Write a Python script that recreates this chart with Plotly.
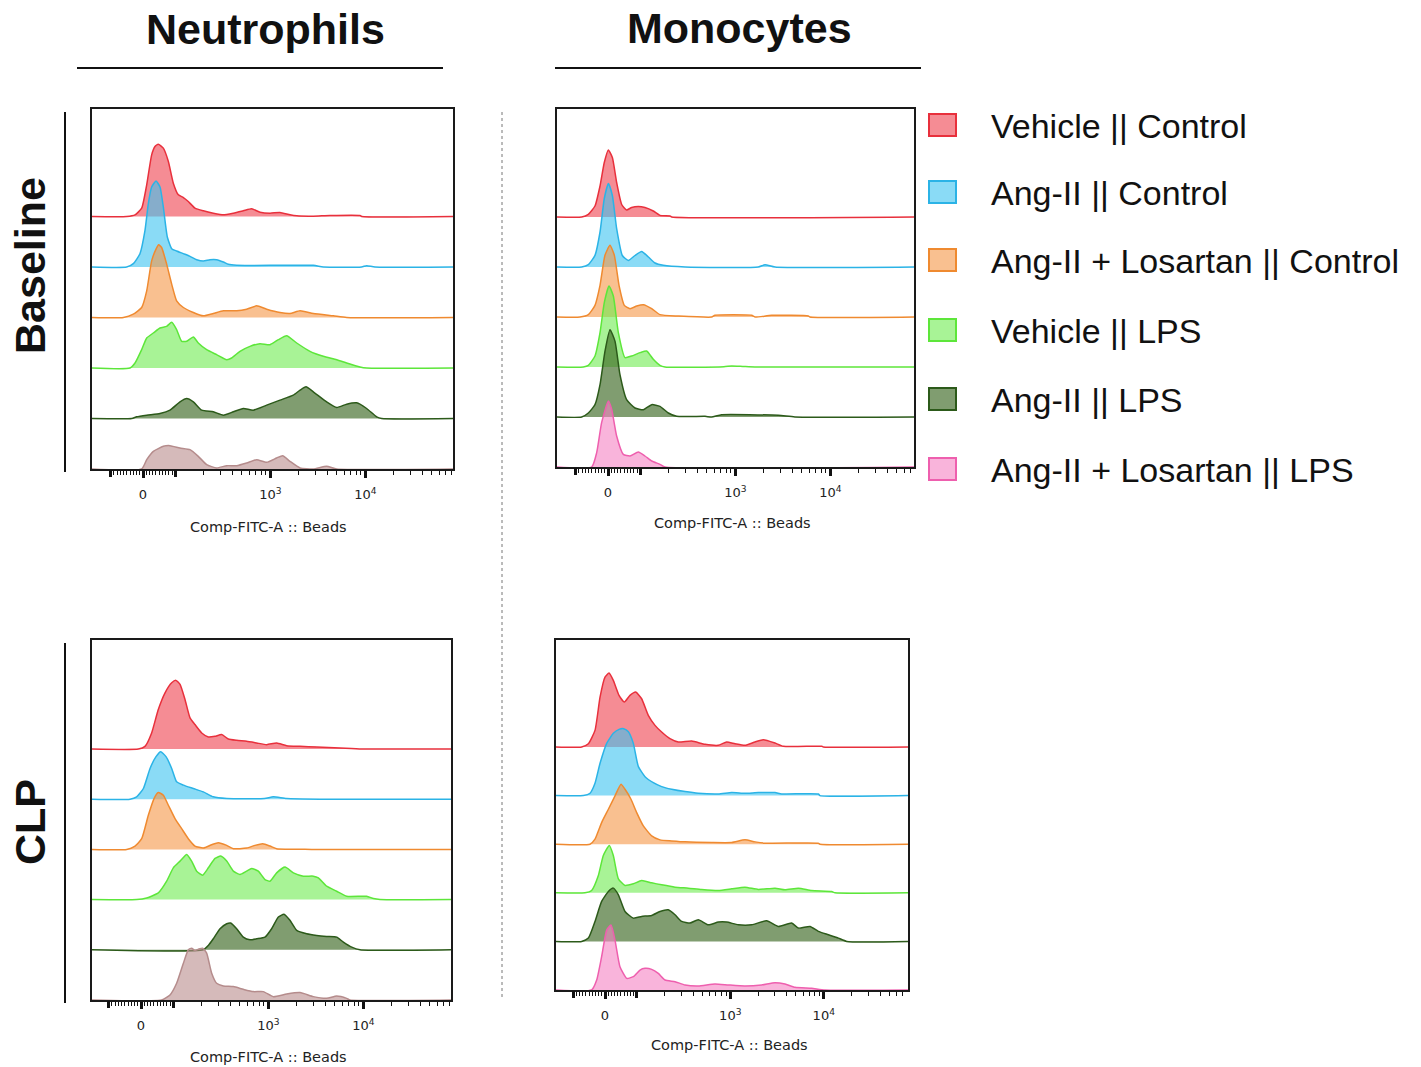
import math
import plotly.graph_objects as go

W, H = 1421, 1067

SERIES_NAMES = ["Vehicle || Control", "Ang-II || Control", "Ang-II + Losartan || Control",
                "Vehicle || LPS", "Ang-II || LPS", "Ang-II + Losartan || LPS"]
LINE_COLORS = ["#e8303c", "#2bb3e6", "#ef8a30", "#5de63a", "#2c5a1a", "#ee5fae"]
FILL_COLORS = ["rgba(238,64,76,0.6)", "rgba(60,195,240,0.6)", "rgba(245,150,70,0.6)",
               "rgba(110,235,80,0.6)", "rgba(60,105,35,0.65)", "rgba(245,130,195,0.6)"]
NEU_LAST_LINE = "#b58c8c"
NEU_LAST_FILL = "rgba(185,140,140,0.6)"

# biexponential display axis: linear within +-100, logarithmic (1 unit per decade) beyond.
# x values of the histograms below are positions on this display scale.
LIN_LIMIT = 100.0
LIN_WIDTH = 0.34
LABEL_TICKS = [0, 1000, 10000]
LABEL_TEXT = ["0", "10<sup>3</sup>", "10<sup>4</sup>"]
UNLABELED_MAJOR = [-100, 100]
MINOR_TICKS = [-90, -80, -70, -60, -50, -40, -30, -20, -10,
               10, 20, 30, 40, 50, 60, 70, 80, 90,
               200, 300, 400, 500, 600, 700, 800, 900,
               2000, 3000, 4000, 5000, 6000, 7000, 8000, 9000,
               20000, 30000, 40000, 50000, 60000, 70000, 80000]

# ---- histogram outlines: [display position, normalized count] ----
# Neutrophils / Baseline
nb_veh_ctl = [(-0.172,0),(-0.084,0.033),(-0.014,0.165),(0.039,0.627),(0.091,1.221),(0.126,1.386),(0.161,1.432),(0.214,1.353),(0.267,1.089),(0.319,0.660),(0.372,0.429),(0.425,0.376),(0.477,0.297),(0.547,0.165),(0.635,0.112),(0.740,0.066),(0.846,0.033),(0.951,0.066),(1.056,0.112),(1.144,0.152),(1.232,0.086),(1.337,0.066),(1.442,0.079),(1.547,0.033),(1.618,0.013),(1.793,0.007),(1.968,0.020),(2.284,0.020),(2.302,0)]
nb_ang_ctl = [(-0.172,0),(-0.102,0.066),(-0.032,0.264),(0.021,0.726),(0.056,1.254),(0.091,1.584),(0.137,1.703),(0.179,1.584),(0.214,1.188),(0.256,0.594),(0.302,0.363),(0.354,0.317),(0.425,0.264),(0.495,0.211),(0.565,0.145),(0.635,0.119),(0.705,0.145),(0.775,0.145),(0.846,0.099),(0.898,0.053),(0.986,0.033),(1.793,0.033),(1.898,0),(2.30,0),(2.354,0.026),(2.442,0)]
nb_los_ctl = [(-0.207,0),(-0.102,0.066),(-0.014,0.198),(0.039,0.528),(0.091,1.122),(0.137,1.353),(0.165,1.439),(0.196,1.386),(0.249,1.056),(0.302,0.660),(0.354,0.330),(0.425,0.198),(0.530,0.099),(0.635,0.033),(0.740,0.079),(0.846,0.132),(0.986,0.132),(1.091,0.165),(1.196,0.231),(1.302,0.165),(1.442,0.099),(1.547,0.079),(1.653,0.132),(1.793,0.079),(2.004,0.033),(2.144,0)]
nb_veh_lps = [(-0.137,0),(-0.084,0.099),(-0.014,0.363),(0.039,0.594),(0.109,0.693),(0.179,0.792),(0.249,0.825),(0.302,0.904),(0.354,0.759),(0.407,0.528),(0.460,0.528),(0.530,0.614),(0.582,0.495),(0.670,0.363),(0.775,0.264),(0.881,0.165),(0.933,0.198),(1.021,0.330),(1.126,0.429),(1.232,0.482),(1.337,0.462),(1.425,0.561),(1.512,0.640),(1.618,0.495),(1.758,0.330),(1.898,0.231),(2.039,0.165),(2.144,0.099),(2.284,0.020),(2.354,0)]
nb_ang_lps = [(-0.119,0),(-0.067,0.033),(0.039,0.066),(0.179,0.099),(0.284,0.165),(0.389,0.330),(0.460,0.396),(0.530,0.330),(0.618,0.165),(0.740,0.132),(0.846,0.066),(0.951,0.132),(1.056,0.198),(1.161,0.165),(1.302,0.264),(1.442,0.363),(1.582,0.462),(1.653,0.561),(1.716,0.627),(1.793,0.528),(1.933,0.330),(2.039,0.218),(2.144,0.284),(2.249,0.310),(2.354,0.198),(2.460,0.033),(2.512,0)]
nb_los_lps = [(-0.014,0),(0.039,0.185),(0.109,0.350),(0.214,0.449),(0.284,0.462),(0.389,0.416),(0.495,0.383),(0.582,0.251),(0.670,0.086),(0.775,0.020),(0.881,0.066),(0.986,0.066),(1.091,0.119),(1.196,0.185),(1.302,0.132),(1.407,0.218),(1.470,0.264),(1.547,0.152),(1.653,0.020),(1.793,0),(1.933,0.053),(2.039,0)]

# Monocytes / Baseline
mb_veh_ctl = [(-0.277,0),(-0.207,0.053),(-0.137,0.22),(-0.084,0.62),(-0.039,1.09),(0.004,1.34),(0.046,1.19),(0.091,0.69),(0.144,0.25),(0.196,0.14),(0.249,0.19),(0.319,0.21),(0.389,0.19),(0.477,0.12),(0.547,0.033),(0.653,0.02),(0.670,0)]
mb_ang_ctl = [(-0.277,0),(-0.207,0.047),(-0.137,0.233),(-0.084,0.70),(-0.039,1.37),(0.004,1.67),(0.046,1.43),(0.091,0.77),(0.151,0.23),(0.214,0.13),(0.284,0.23),(0.354,0.31),(0.425,0.20),(0.495,0.08),(0.582,0.033),(0.811,0),(1.582,0),(1.653,0.047),(1.758,0)]
mb_los_ctl = [(-0.295,0),(-0.207,0.047),(-0.137,0.233),(-0.084,0.633),(-0.032,1.233),(0.021,1.433),(0.067,1.233),(0.116,0.633),(0.172,0.233),(0.232,0.167),(0.302,0.22),(0.372,0.247),(0.460,0.167),(0.547,0.047),(0.740,0.02),(1.091,0),(1.126,0.033),(1.512,0.033),(1.547,0),(1.723,0.033),(2.109,0.02),(2.126,0)]
mb_veh_lps = [(-0.26,0),(-0.207,0.033),(-0.137,0.22),(-0.084,0.687),(-0.039,1.287),(0.011,1.62),(0.056,1.42),(0.109,0.687),(0.179,0.187),(0.249,0.22),(0.337,0.287),(0.407,0.32),(0.477,0.153),(0.547,0.033),(0.60,0),(1.22,0.005),(1.302,0.02),(1.42,0.01),(1.547,0)]
mb_ang_lps = [(-0.277,0),(-0.207,0.08),(-0.137,0.247),(-0.084,0.647),(-0.032,1.313),(0.021,1.747),(0.074,1.513),(0.126,0.847),(0.196,0.347),(0.284,0.18),(0.372,0.147),(0.460,0.247),(0.547,0.213),(0.635,0.08),(0.723,0.013),(1.021,0.013),(1.091,0),(1.196,0.047),(1.793,0.033),(1.968,0)]
mb_los_lps = [(-0.172,0),(-0.119,0.287),(-0.067,0.887),(0.004,1.32),(0.039,1.153),(0.091,0.62),(0.161,0.253),(0.232,0.22),(0.319,0.30),(0.389,0.22),(0.460,0.12),(0.547,0.053),(0.60,0)]

# Neutrophils / CLP
nc_veh_ctl = [(-0.028,0),(0.042,0.053),(0.112,0.32),(0.182,0.787),(0.253,1.12),(0.323,1.32),(0.368,1.367),(0.411,1.287),(0.463,0.987),(0.516,0.62),(0.568,0.487),(0.639,0.32),(0.709,0.24),(0.779,0.253),(0.849,0.287),(0.919,0.20),(1.007,0.173),(1.112,0.153),(1.218,0.12),(1.323,0.087),(1.428,0.12),(1.533,0.067),(1.674,0.053),(1.849,0.04),(2.095,0.02),(2.323,0)]
nc_ang_ctl = [(-0.116,0),(-0.046,0.047),(0.025,0.213),(0.095,0.613),(0.158,0.847),(0.207,0.947),(0.263,0.847),(0.323,0.613),(0.375,0.347),(0.446,0.28),(0.551,0.213),(0.656,0.147),(0.761,0.047),(0.902,0.013),(1.30,0.013),(1.393,0.047),(1.533,0.013),(1.884,0)]
nc_los_ctl = [(-0.151,0),(-0.063,0.067),(0.007,0.213),(0.077,0.68),(0.137,1.013),(0.182,1.133),(0.235,1.08),(0.288,0.88),(0.358,0.613),(0.428,0.413),(0.498,0.213),(0.568,0.067),(0.656,0.027),(0.744,0.093),(0.814,0.133),(0.902,0.08),(0.972,0.013),(1.112,0.027),(1.2,0.08),(1.281,0.113),(1.358,0.067),(1.428,0.013),(1.796,0)]
nc_veh_lps = [(-0.046,0),(0.06,0.033),(0.182,0.133),(0.27,0.367),(0.34,0.633),(0.411,0.767),(0.481,0.90),(0.533,0.767),(0.586,0.567),(0.649,0.487),(0.709,0.633),(0.779,0.82),(0.839,0.867),(0.902,0.767),(0.972,0.567),(1.042,0.50),(1.112,0.567),(1.165,0.62),(1.235,0.567),(1.305,0.40),(1.358,0.367),(1.428,0.533),(1.516,0.647),(1.604,0.533),(1.709,0.467),(1.814,0.467),(1.867,0.433),(1.954,0.267),(2.06,0.167),(2.165,0.067),(2.375,0.067),(2.446,0.02),(2.516,0)]
nc_ang_lps = [(0.656,0),(0.709,0.087),(0.761,0.22),(0.832,0.42),(0.902,0.52),(0.944,0.533),(1.007,0.42),(1.077,0.253),(1.147,0.20),(1.218,0.22),(1.305,0.253),(1.375,0.42),(1.446,0.653),(1.505,0.707),(1.568,0.587),(1.639,0.387),(1.744,0.32),(1.849,0.287),(1.954,0.267),(2.06,0.253),(2.13,0.153),(2.218,0.053),(2.305,0)]
nc_los_lps = [(0.218,0),(0.305,0.10),(0.375,0.333),(0.446,0.733),(0.498,1.0),(0.533,1.033),(0.568,0.987),(0.604,1.013),(0.649,1.033),(0.691,0.933),(0.744,0.533),(0.796,0.333),(0.867,0.28),(0.972,0.267),(1.077,0.213),(1.182,0.167),(1.288,0.167),(1.393,0.067),(1.533,0.12),(1.674,0.147),(1.814,0.067),(1.954,0.033),(2.06,0.08),(2.165,0.033),(2.2,0)]

# Monocytes / CLP
mc_veh_ctl = [(-0.25,0),(-0.178,0.068),(-0.107,0.342),(-0.053,1.027),(0,1.438),(0.043,1.521),(0.089,1.37),(0.15,1.062),(0.207,0.925),(0.267,1.062),(0.328,1.130),(0.392,0.993),(0.463,0.651),(0.535,0.445),(0.606,0.308),(0.695,0.171),(0.784,0.103),(0.927,0.123),(1.07,0.055),(1.212,0.034),(1.301,0.103),(1.39,0.068),(1.497,0.034),(1.604,0.103),(1.693,0.151),(1.818,0.082),(1.907,0.014),(2.32,0.014),(2.335,0)]
mc_ang_ctl = [(-0.232,0),(-0.16,0.048),(-0.107,0.253),(-0.053,0.664),(0.018,1.075),(0.089,1.281),(0.15,1.363),(0.20,1.377),(0.25,1.315),(0.303,1.075),(0.357,0.596),(0.428,0.390),(0.517,0.267),(0.606,0.185),(0.713,0.130),(0.856,0.082),(0.998,0.048),(1.212,0.034),(1.355,0.062),(1.497,0.048),(1.64,0.062),(1.818,0.062),(1.889,0.034),(2.282,0.034),(2.299,0)]
mc_los_ctl = [(-0.16,0),(-0.107,0.103),(-0.036,0.445),(0.036,0.719),(0.107,0.993),(0.171,1.233),(0.214,1.13),(0.278,0.925),(0.339,0.651),(0.41,0.377),(0.499,0.171),(0.588,0.089),(0.713,0.068),(0.856,0.048),(1.141,0.034),(1.355,0.034),(1.497,0.089),(1.604,0.048),(1.711,0.021),(2.28,0.021),(2.299,0)]
mc_veh_lps = [(-0.214,0),(-0.143,0.048),(-0.071,0.356),(-0.018,0.767),(0.046,0.973),(0.089,0.767),(0.143,0.288),(0.214,0.151),(0.303,0.185),(0.392,0.253),(0.499,0.205),(0.606,0.164),(0.749,0.116),(0.891,0.096),(1.034,0.068),(1.212,0.048),(1.355,0.082),(1.497,0.116),(1.64,0.068),(1.818,0.096),(1.925,0.062),(2.068,0.096),(2.21,0.048),(2.424,0.027),(2.46,0)]
mc_ang_lps = [(-0.25,0),(-0.178,0.068),(-0.107,0.411),(-0.036,0.822),(0.036,1.027),(0.089,1.096),(0.143,0.959),(0.214,0.616),(0.303,0.479),(0.392,0.514),(0.499,0.534),(0.588,0.616),(0.677,0.651),(0.749,0.548),(0.82,0.411),(0.909,0.377),(0.998,0.445),(1.105,0.342),(1.212,0.397),(1.301,0.397),(1.426,0.342),(1.569,0.342),(1.729,0.425),(1.854,0.308),(1.996,0.377),(2.068,0.274),(2.193,0.308),(2.282,0.205),(2.389,0.137),(2.496,0.068),(2.585,0)]
mc_los_lps = [(-0.143,0),(-0.089,0.205),(-0.036,0.685),(0.018,1.233),(0.064,1.336),(0.107,1.027),(0.16,0.479),(0.232,0.24),(0.303,0.274),(0.374,0.411),(0.428,0.445),(0.499,0.425),(0.57,0.342),(0.642,0.205),(0.749,0.171),(0.856,0.103),(0.998,0.082),(1.176,0.123),(1.319,0.103),(1.497,0.082),(1.676,0.103),(1.818,0.151),(1.925,0.123),(2.032,0.055),(2.21,0.034),(2.353,0)]

# ---- layout geometry (pixels) ----
PANELS = [
    dict(box=(92, 109, 453, 469), zero=143, dec=95.0, step=50.5, neu=True,
         data=[nb_veh_ctl, nb_ang_ctl, nb_los_ctl, nb_veh_lps, nb_ang_lps, nb_los_lps], title_at=(268, 527)),
    dict(box=(557, 109, 914, 467), zero=608, dec=95.0, step=50.0, neu=False,
         data=[mb_veh_ctl, mb_ang_ctl, mb_los_ctl, mb_veh_lps, mb_ang_lps, mb_los_lps], title_at=(732, 523)),
    dict(box=(92, 640, 451, 1000), zero=141, dec=95.0, step=50.2, neu=True,
         data=[nc_veh_ctl, nc_ang_ctl, nc_los_ctl, nc_veh_lps, nc_ang_lps, nc_los_lps], title_at=(268, 1057)),
    dict(box=(556, 640, 908, 990), zero=605, dec=93.5, step=48.6, neu=False,
         data=[mc_veh_ctl, mc_ang_ctl, mc_los_ctl, mc_veh_lps, mc_ang_lps, mc_los_lps], title_at=(729, 1045)),
]


def biex(v):
    if abs(v) <= LIN_LIMIT:
        return v / LIN_LIMIT * LIN_WIDTH
    s = 1 if v > 0 else -1
    return s * (LIN_WIDTH + math.log10(abs(v) / LIN_LIMIT))


def px(x):
    return x / W


def py(y):
    return 1 - y / H


fig = go.Figure()
layout = dict(width=W, height=H, margin=dict(l=0, r=0, t=0, b=0),
              paper_bgcolor="white", plot_bgcolor="white", showlegend=False)
annotations = []
shapes = []
TICK_COLOR = "#111"

for k, p in enumerate(PANELS, start=1):
    x0, y0, x1, y1 = p["box"]
    xr = [(x0 - p["zero"]) / p["dec"], (x1 - p["zero"]) / p["dec"]]
    yr = [0, (y1 - y0) / p["step"]]
    xa = "x" if k == 1 else f"x{k}"
    ya = "y" if k == 1 else f"y{k}"
    n = len(p["data"])
    for i, series in enumerate(p["data"]):
        off = n - 1 - i
        xs = [xr[0]] + [a for a, _ in series] + [xr[1]]
        ys = [off] + [off + b for _, b in series] + [off]
        lc, fc = LINE_COLORS[i], FILL_COLORS[i]
        if p["neu"] and i == n - 1:
            lc, fc = NEU_LAST_LINE, NEU_LAST_FILL
        fig.add_trace(go.Scatter(x=xs, y=ys, mode="lines", name=SERIES_NAMES[i],
                                 line=dict(color=lc, width=1.5, shape="spline", smoothing=0.5),
                                 fill="toself", fillcolor=fc, hoverinfo="skip",
                                 xaxis=xa, yaxis=ya))
    # empty trace so the companion tick axis gets drawn
    fig.add_trace(go.Scatter(x=[], y=[], mode="lines", hoverinfo="skip",
                             xaxis=f"x{k + 4}", yaxis=ya))
    axname = "xaxis" if k == 1 else f"xaxis{k}"
    ayname = "yaxis" if k == 1 else f"yaxis{k}"
    layout[axname] = dict(
        domain=[px(x0), px(x1)], range=xr, anchor=ya, showgrid=False, zeroline=False,
        showline=True, linecolor="#1a1a1a", linewidth=1.5, mirror=True,
        tickmode="array", tickvals=[biex(v) for v in LABEL_TICKS], ticktext=LABEL_TEXT,
        ticks="outside", ticklen=7, tickwidth=2.5, tickcolor=TICK_COLOR,
        ticklabelstandoff=6,
        tickfont=dict(family="DejaVu Sans", size=13, color="#222"),
        minor=dict(tickmode="array", tickvals=[biex(v) for v in MINOR_TICKS],
                   ticks="outside", ticklen=4, tickwidth=1.4, tickcolor=TICK_COLOR, showgrid=False),
    )
    # companion axis carrying the unlabeled major ticks (+-100)
    layout[f"xaxis{k + 4}"] = dict(
        domain=[px(x0), px(x1)], overlaying=xa, anchor=ya, range=xr,
        showgrid=False, zeroline=False, showline=False, showticklabels=False,
        tickmode="array", tickvals=[biex(v) for v in UNLABELED_MAJOR],
        ticks="outside", ticklen=7, tickwidth=2.5, tickcolor=TICK_COLOR,
    )
    layout[ayname] = dict(
        domain=[py(y1), py(y0)], range=yr, anchor=xa, showgrid=False, zeroline=False,
        showline=True, linecolor="#1a1a1a", linewidth=1.5, mirror=True,
        showticklabels=False, ticks="",
    )
    tx, ty = p["title_at"]
    annotations.append(dict(x=px(tx), y=py(ty), xref="paper", yref="paper",
                            text="Comp-FITC-A :: Beads", showarrow=False,
                            xanchor="center", yanchor="middle",
                            font=dict(family="DejaVu Sans", size=14.5, color="#222")))

BOLD = dict(family="Liberation Sans, Arial, sans-serif", size=43, color="#111")
for text, x, y, ang in [("<b>Neutrophils</b>", 265, 29, 0), ("<b>Monocytes</b>", 739, 28, 0),
                        ("<b>Baseline</b>", 30, 266, -90), ("<b>CLP</b>", 30, 822, -90)]:
    annotations.append(dict(x=px(x), y=py(y), xref="paper", yref="paper", text=text,
                            showarrow=False, xanchor="center", yanchor="middle",
                            textangle=ang, font=BOLD))

line_style = dict(color="#111", width=2)
for (xa0, ya0, xa1, ya1) in [(77, 68, 443, 68), (555, 68, 921, 68), (65, 112, 65, 472), (65, 643, 65, 1003)]:
    shapes.append(dict(type="line", xref="paper", yref="paper", x0=px(xa0), y0=py(ya0),
                       x1=px(xa1), y1=py(ya1), line=line_style))
shapes.append(dict(type="line", xref="paper", yref="paper", x0=px(502), y0=py(112),
                   x1=px(502), y1=py(1000), line=dict(color="#777", width=1, dash="dot")))

# legend
LEG_CENTERS = [125, 192, 260, 330, 399, 469]
for i, name in enumerate(SERIES_NAMES):
    cy = LEG_CENTERS[i]
    shapes.append(dict(type="rect", xref="paper", yref="paper",
                       x0=px(929), x1=px(956), y0=py(cy + 11), y1=py(cy - 11),
                       fillcolor=FILL_COLORS[i], line=dict(color=LINE_COLORS[i], width=2)))
    annotations.append(dict(x=px(989), y=py(cy + 1), xref="paper", yref="paper", text=name,
                            showarrow=False, xanchor="left", yanchor="middle",
                            font=dict(family="Liberation Sans, Arial, sans-serif", size=34, color="#111")))

layout["annotations"] = annotations
layout["shapes"] = shapes
fig.update_layout(**layout)
fig.write_html("out.html")
